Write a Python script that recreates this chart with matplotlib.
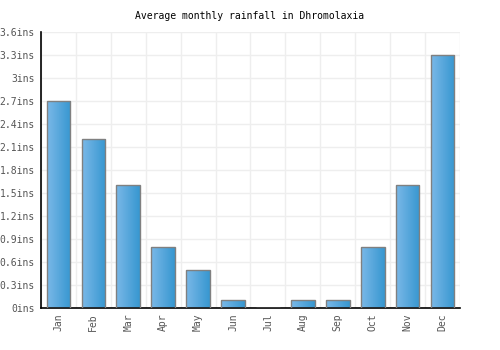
import numpy as np
import matplotlib
matplotlib.use('Agg')
import matplotlib.pyplot as plt
from matplotlib.colors import LinearSegmentedColormap

months = ['Jan', 'Feb', 'Mar', 'Apr', 'May', 'Jun', 'Jul', 'Aug', 'Sep', 'Oct', 'Nov', 'Dec']
rainfall = [2.7, 2.2, 1.6, 0.8, 0.5, 0.1, 0.0, 0.1, 0.1, 0.8, 1.6, 3.3]
yticks = [0, 0.3, 0.6, 0.9, 1.2, 1.5, 1.8, 2.1, 2.4, 2.7, 3.0, 3.3, 3.6]

plt.rcParams['font.family'] = ['DejaVu Sans Mono']

fig = plt.figure(figsize=(5, 3.5), dpi=100)
ax = fig.add_axes([0.082, 0.12, 0.838, 0.789])

x = np.arange(len(months))
bars = ax.bar(x, rainfall, width=0.68, color='none', edgecolor='#808080', linewidth=1, zorder=3)

cmap = LinearSegmentedColormap.from_list('grad', ['#7ab8e8', '#3797d0'])
grad = np.linspace(0, 1, 64).reshape(1, -1)
for b in bars:
    h = b.get_height()
    if h <= 0:
        continue
    x0 = b.get_x()
    im = ax.imshow(grad, cmap=cmap, aspect='auto', zorder=2,
                   extent=(x0, x0 + b.get_width(), 0, h))
    im.set_clip_path(b)

ax.set_xlim(-0.5, len(months) - 0.5)
ax.set_ylim(0, 3.6)
ax.set_yticks(yticks)
ax.set_yticklabels([f'{v:g}ins' for v in yticks], color='#555555', fontsize=7)
ax.set_xticks(x)
ax.set_xticklabels(months, rotation=90, color='#555555', fontsize=7)
ax.set_xticks(np.arange(len(months) + 1) - 0.5, minor=True)
ax.tick_params(which='both', length=0)
ax.tick_params(axis='x', pad=4)
ax.tick_params(axis='y', pad=4.5)
ax.grid(axis='y', color='#eeeeee', linewidth=1, zorder=0)
ax.grid(axis='x', which='minor', color='#eeeeee', linewidth=1, zorder=0)
for s in ['top', 'right']:
    ax.spines[s].set_visible(False)
ax.spines['left'].set_linewidth(1.2)
ax.spines['bottom'].set_linewidth(1.2)
ax.set_axisbelow(True)

fig.text(0.5, 0.953, 'Average monthly rainfall in Dhromolaxia', ha='center', va='center', fontsize=7)

fig.savefig('out.png', dpi=100)
